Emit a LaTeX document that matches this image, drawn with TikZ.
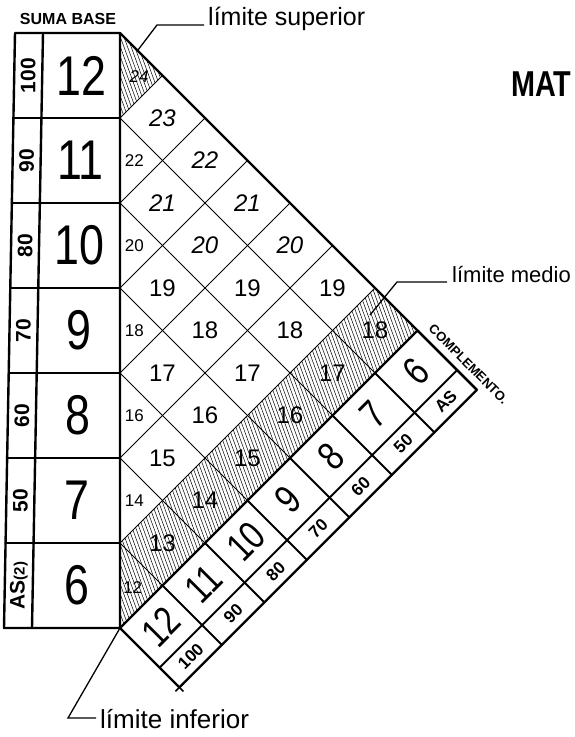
\documentclass[tikz,border=0pt]{standalone}
\usepackage{fontspec}
\setmainfont{Liberation Sans}
\newfontfamily\narrowf[FakeStretch=0.8]{Liberation Sans}
\begin{document}
\begin{tikzpicture}[x=1pt,y=1pt,
  thickline/.style={line width=2.4pt,line join=round,line cap=round},
  midline/.style={line width=2pt,line cap=round},
  gridline/.style={line width=0.9pt},
  hatch/.style={line width=0.5pt},
  leader/.style={line width=1.3pt},
  colbig/.style={font=\narrowf\fontsize{56}{56}\selectfont,inner sep=0pt},
  colsmall/.style={font=\bfseries\fontsize{21}{21}\selectfont,rotate=90,inner sep=0pt},
  dfull/.style={font=\fontsize{24}{24}\selectfont,inner sep=0pt},
  dfullit/.style={font=\itshape\fontsize{24}{24}\selectfont,inner sep=0pt},
  dhalf/.style={font=\fontsize{17}{17}\selectfont,inner sep=0pt},
  stripbig/.style={font=\narrowf\fontsize{40}{40}\selectfont,rotate=45,inner sep=0pt},
  stripsmall/.style={font=\bfseries\fontsize{17}{17}\selectfont,rotate=45,inner sep=0pt},
  leadtext/.style={inner sep=0pt,anchor=base west},
  capsbold/.style={font=\bfseries\fontsize{16}{16}\selectfont,inner sep=0pt}
]
\useasboundingbox (0,0) rectangle (574,737);

% main points
\coordinate (TL) at (15,704);
\coordinate (BL) at (4,109);
\coordinate (TD) at (43,704);
\coordinate (BD) at (32,109);
\coordinate (A) at (120,704);
\coordinate (B) at (120,109);
\coordinate (C) at (417.5,406.5);

% hatching of the band (limite inferior .. limite medio)
\begin{scope}
  \clip (120,194) -- (B) -- (C) -- (375,449) -- cycle;
  \foreach \i in {0,...,140} \draw[hatch] ({-60+3.6*\i},470) -- ++(-70:420);
\end{scope}
% hatching of top triangle (24)
\begin{scope}
  \clip (A) -- (120,619) -- (162.5,661.5) -- cycle;
  \foreach \i in {0,...,22} \draw[hatch] ({80+3.6*\i},712) -- ++(-70:120);
\end{scope}

% diamond grid
\begin{scope}[shift={(120,704)},x=42.5pt,y=-42.5pt]
  \foreach \k in {1,...,6} {
    \draw[gridline] (0,{2*\k}) -- ({7-\k},{7+\k});
    \draw[gridline] (0,{2*\k}) -- (\k,\k);
  }
  \foreach \a/\b/\t in {1/2/23,2/3/22,1/4/21,3/4/21,2/5/20,4/5/20}
    \node[dfullit] (d\a-\b) at (\a,\b) {\t};
  \foreach \a/\b/\t in {1/6/19,3/6/19,5/6/19,2/7/18,4/7/18,6/7/18,1/8/17,3/8/17,5/8/17,2/9/16,4/9/16,1/10/15,3/10/15,2/11/14,1/12/13}
    \node[dfull] (d\a-\b) at (\a,\b) {\t};
  \foreach \b/\t in {3/22,5/20,7/18,9/16,11/14}
    \node[dhalf] (h\b) at (0.34,\b) {\t};
  \node[dhalf] (h13) at (0.3,13.05) {12};
  \node[dhalf,font=\itshape\fontsize{17}{17}\selectfont] (h1) at (0.45,1.02) {24};
\end{scope}

% left column
\draw[thickline] (TL) -- (A) -- (B) -- (BL) -- cycle;
\draw[thickline] (TD) -- (BD);
\foreach \k in {1,...,6} {
  \pgfmathsetmacro\yy{704-85*\k}
  \pgfmathsetmacro\xx{4+11*(\yy-109)/595}
  \draw[thickline] (\xx,\yy) -- (120,\yy);
}
\foreach \k/\lb/\ls in {0/12/100,1/11/90,2/10/80,3/9/70,4/8/60,5/7/50} {
  \pgfmathsetmacro\yc{661.5-85*\k}
  \pgfmathsetmacro\xl{4+11*(\yc-109)/595}
  \node[colbig] (cb\k) at ({(\xl+28+120)/2},\yc) {\lb};
  \node[colsmall] (cs\k) at ({\xl+14},\yc) {\ls};
}
\node[colbig] (cb6) at (76.5,151.5) {6};
\node[colsmall] (cs6) at (18.8,151.5) {AS{\fontsize{15}{15}\selectfont(2)}};

% complement strip
\begin{scope}[shift={(B)},rotate=45]
  \coordinate (SE) at (420.7,-84);
  \coordinate (SW) at (0,-84);
  \draw[thickline] (0,0) -- (420.7,0) -- (SE) -- (SW) -- cycle;
  \draw[midline] (0,-56) -- (420.7,-56);
  \foreach \k in {1,...,6} \draw[midline] ({60.1*\k},0) -- ({60.1*\k},-84);
  \foreach \k/\lb/\ls in {0/12/100,1/11/90,2/10/80,3/9/70,4/8/60,5/7/50,6/6/AS} {
    \node[stripbig] (sb\k) at ({60.1*\k+30.05},-28) {\lb};
    \node[stripsmall] (ss\k) at ({60.1*\k+30.05},-70) {\ls};
  }
  \node[font=\bfseries\fontsize{13}{13}\selectfont,rotate=-45,inner sep=0pt] (comp) at (433,-60) {COMPLEMENTO.};
\end{scope}
\draw[line width=1.5pt] ([shift={(-4,-4)}]SW) -- ([shift={(4,4)}]SW);
\draw[line width=1.5pt] ([shift={(-4,4)}]SW) -- ([shift={(4,-4)}]SW);

% hypotenuse
\draw[thickline] (A) -- (C) -- (SE);

% titles
\node[capsbold] (suma) at (68,718) {SUMA BASE};
\node[font=\bfseries\narrowf\fontsize{36}{36}\selectfont,inner sep=0pt,anchor=west] (mat) at (511,653) {MAT};

% leaders
\node[leadtext,font=\fontsize{25}{25}\selectfont] (tsup) at (208,711) {límite superior};
\coordinate (lsup) at (138,687);
\draw[leader] (lsup) -- (157,712) -- ([xshift=-4pt,yshift=1pt]tsup.base west);

\node[leadtext,font=\fontsize{22}{22}\selectfont] (tmed) at (452,454) {límite medio};
\coordinate (lmed) at (370,422);
\draw[leader] (lmed) -- (397,455) -- ([xshift=-5pt,yshift=1pt]tmed.base west);

\node[leadtext,font=\fontsize{26}{26}\selectfont] (tinf) at (100,9) {límite inferior};
\draw[leader] (B) -- (68,19) -- (96,19);
\end{tikzpicture}
\end{document}
